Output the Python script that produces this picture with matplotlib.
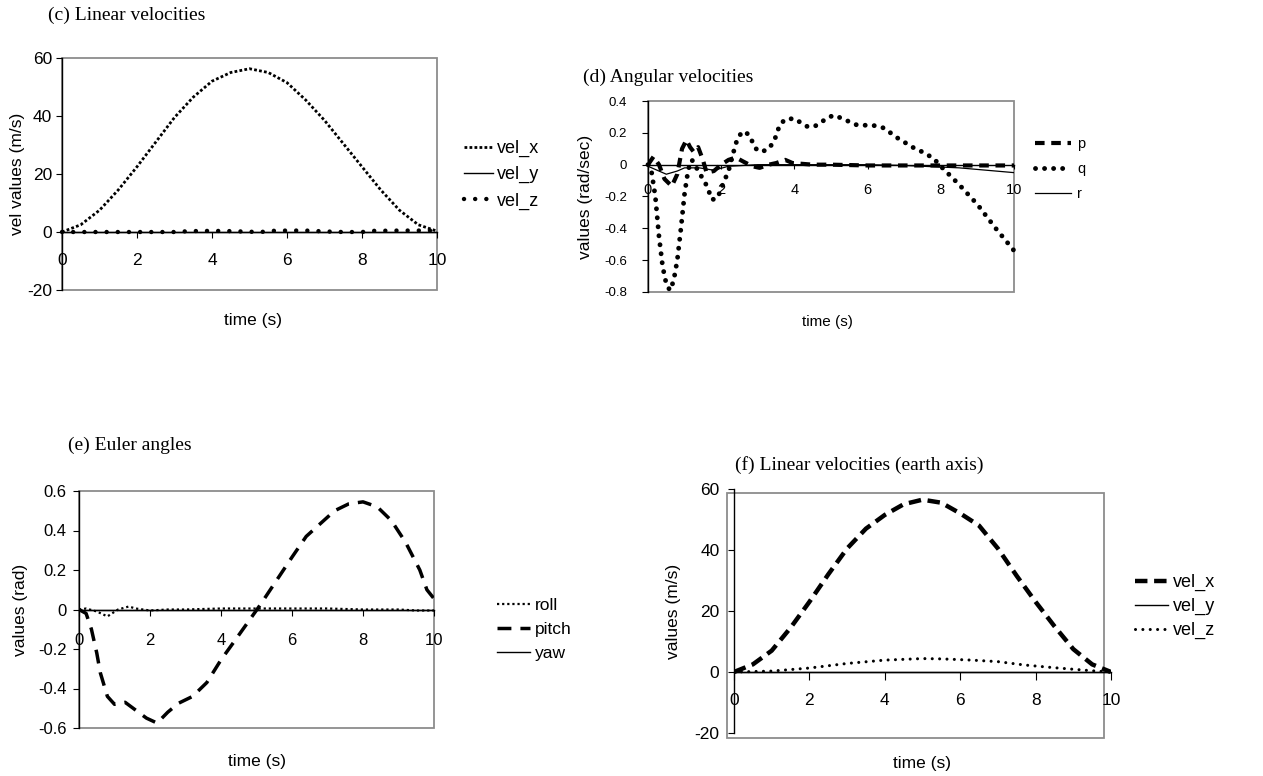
import matplotlib
matplotlib.use('Agg')
import matplotlib.pyplot as plt
from matplotlib.patches import Rectangle

plt.rcParams['font.family'] = ['Liberation Sans', 'DejaVu Sans']
plt.rcParams['axes.unicode_minus'] = False

# --- data ---
# (c) linear velocities
t_c = [0, 0.5, 1, 1.5, 2, 2.5, 3, 3.5, 4, 4.5, 5, 5.5, 6, 6.5, 7, 7.5, 8, 8.5, 9, 9.5, 10]
velx_c = [0, 2.5, 7.5, 14.5, 22.5, 31, 39.5, 46.5, 52, 55, 56.3, 55, 51.5, 45.5, 38.5, 30.5, 22.5, 14.5, 7.5, 2.5, 0.3]
t_cy = [0, 10]
vely_c = [0, 0]
t_cz = [0, 1, 2, 3, 3.4, 4, 4.5, 5, 5.3, 5.6, 6, 6.5, 7, 7.5, 8, 8.3, 9, 10]
velz_c = [0, 0, 0, 0, 0.3, 0.4, 0.3, 0.1, 0, 0.4, 0.5, 0.5, 0.2, 0, 0, 0.4, 0.5, 0.5]

# (d) angular velocities
t_p = [0, 0.15, 0.3, 0.45, 0.65, 0.8, 0.93, 1.05, 1.15, 1.25, 1.37, 1.5, 1.6, 1.8, 2.0, 2.2, 2.4,
       2.6, 2.85, 3.05, 3.3, 3.5, 3.75, 3.95, 4.5, 5, 6, 7, 8, 9, 10]
p_d = [0, 0.05, 0.0, -0.09, -0.135, -0.06, 0.1, 0.155, 0.11, 0.08, 0.11, 0.03, -0.05, -0.04, 0.0,
       0.03, 0.045, 0.02, -0.01, -0.02, 0.0, 0.01, 0.03, 0.01, 0.0, 0.0, -0.005, -0.005, -0.005, -0.005, -0.005]
t_q = [0, 0.1, 0.2, 0.3, 0.4, 0.5, 0.6, 0.7, 0.8, 0.9, 1.0, 1.1, 1.2, 1.4, 1.6, 1.75, 1.9, 2.05,
       2.2, 2.3, 2.45, 2.6, 2.75, 2.95, 3.1, 3.3, 3.45, 3.6, 3.75, 4.0, 4.2, 4.35, 4.55, 4.75, 4.95,
       5.1, 5.35, 5.7, 6.2, 6.45, 6.8, 7.3, 7.5, 7.8, 8.0, 8.5, 9.0, 9.5, 10.0]
q_d = [0, -0.05, -0.2, -0.45, -0.64, -0.75, -0.79, -0.73, -0.6, -0.4, -0.18, -0.03, 0.03, -0.05,
       -0.13, -0.22, -0.21, -0.12, -0.04, 0.05, 0.17, 0.21, 0.19, 0.1, 0.08, 0.1, 0.15, 0.25, 0.285,
       0.29, 0.26, 0.24, 0.24, 0.27, 0.3, 0.31, 0.285, 0.25, 0.245, 0.23, 0.17, 0.1, 0.08, 0.04,
       -0.01, -0.125, -0.25, -0.4, -0.54]
t_r = [0, 0.2, 0.5, 0.8, 1.0, 1.4, 1.8, 2.2, 3, 4, 5, 6, 7, 7.5, 8, 8.5, 9, 9.5, 10]
r_d = [-0.01, -0.03, -0.06, -0.04, -0.02, -0.02, -0.035, -0.01, 0, 0, 0, 0, -0.005, -0.01,
       -0.015, -0.02, -0.03, -0.04, -0.05]

# (e) Euler angles
t_pitch = [0, 0.2, 0.35, 0.5, 0.6, 0.8, 1.0, 1.3, 1.6, 1.9, 2.2, 2.5, 2.8, 3.2, 3.6, 4.0, 4.4,
           4.8, 5.1, 5.5, 6.0, 6.4, 6.8, 7.2, 7.6, 8.0, 8.4, 8.8, 9.2, 9.6, 9.8, 10]
pitch_e = [0, -0.02, -0.1, -0.22, -0.32, -0.44, -0.48, -0.47, -0.51, -0.55, -0.575, -0.52, -0.475,
           -0.44, -0.37, -0.255, -0.155, -0.054, 0.022, 0.13, 0.265, 0.37, 0.435, 0.5, 0.535, 0.545,
           0.52, 0.45, 0.34, 0.2, 0.1, 0.055]
t_roll = [0, 0.2, 0.5, 0.8, 1.1, 1.4, 1.6, 2.0, 2.5, 3, 4, 5, 6, 7, 8, 9, 9.5, 10]
roll_e = [0, 0.005, -0.01, -0.035, 0, 0.015, 0.005, -0.005, 0, 0, 0.005, 0.005, 0.005, 0.005, 0, 0,
          -0.005, -0.005]
t_yaw = [0, 10]
yaw_e = [0, 0]

# (f) linear velocities (earth axis)
t_f = [0, 0.5, 1, 1.5, 2, 2.5, 3, 3.5, 4, 4.5, 5, 5.5, 6, 6.5, 7, 7.5, 8, 8.5, 9, 9.5, 10]
velx_f = [0, 2.5, 7, 14.5, 23, 32, 40.5, 47, 51.5, 55, 56.5, 55.5, 52, 48, 40.5, 31.5, 23, 15,
          7.5, 2.5, 0]
t_fy = [0, 10]
vely_f = [0, 0]
t_fz = [0, 1, 2, 3, 4, 5, 5.5, 6.3, 7, 7.7, 8.5, 9.5, 10]
velz_f = [0, 0.3, 1.3, 2.8, 3.9, 4.4, 4.3, 3.9, 3.4, 2.3, 1.4, 0.4, 0]

xticks = [0, 2, 4, 6, 8, 10]

W, H = 1263, 776
fig = plt.figure(figsize=(W / 100, H / 100), dpi=100)


def box(l, t, r, b):
    return [l / W, 1 - b / H, (r - l) / W, (b - t) / H]


def style_axes(ax, ylim, yticks, yfs, xfs, ypad, xpad, xlen=3, frame=(0, 0, 1, 1)):
    ax.set_xlim(0, 10)
    ax.set_ylim(*ylim)
    ax.patch.set_visible(False)
    for s in ['top', 'right']:
        ax.spines[s].set_visible(False)
    ax.spines['left'].set_color('black')
    ax.spines['left'].set_linewidth(1)
    ax.spines['bottom'].set_position(('data', 0))
    ax.spines['bottom'].set_color('black')
    ax.spines['bottom'].set_linewidth(1)
    ax.spines['bottom'].set_zorder(5)
    ax.set_xticks(xticks)
    ax.set_xticklabels([f'{v:g}' for v in xticks])
    ax.set_yticks(yticks)
    ax.set_yticklabels([f'{v:g}' for v in yticks])
    ax.tick_params(axis='y', direction='out', length=4, width=0.8, labelsize=yfs, pad=ypad)
    ax.tick_params(axis='x', direction='out', length=xlen, width=0.8, labelsize=xfs, pad=xpad)
    ax.add_patch(Rectangle((frame[0], frame[1]), frame[2], frame[3], transform=ax.transAxes,
                           fill=False, ec='#8c8c8c', lw=1.3, clip_on=False, zorder=0))


def labels(ax, l, t, r, b, xc, xtop, yright, fx=12.5, fy=12.5):
    # place axis labels by pixel position: x label centre/top, y label right edge
    ax.set_xlabel('time (s)', fontsize=fx)
    ax.xaxis.set_label_coords((xc - l) / (r - l), -(xtop - b) / (b - t))
    ax.yaxis.set_label_coords(-(l - yright) / (r - l), 0.5)
    ax.yaxis.label.set_fontsize(fy)


def title(x, y, s):
    fig.text(x / W, 1 - y / H, s, family=['Liberation Serif'], fontsize=14, va='center', ha='left')


def legend(ax, x, y, fs, hl, ls, tp=0.3):
    fig.legend(handles=ax.get_lines(), loc='upper left', bbox_to_anchor=(x / W, 1 - y / H),
               frameon=False, fontsize=fs, handlelength=hl, labelspacing=ls, handletextpad=tp,
               borderpad=0, borderaxespad=0)


def round_dots(gap):
    return (0, (0.01, gap))


# ---- (c) ----
ax_c = fig.add_axes(box(62, 58, 437, 290))
ax_c.plot(t_c, velx_c, color='black', lw=2.0, ls=(0, (1, 0.8)), label='vel_x')
ax_c.plot(t_cy, vely_c, color='black', lw=1.0, label='vel_y')
ax_c.plot(t_cz, velz_c, color='black', lw=3.2, ls=round_dots(2.5), dash_capstyle='round',
          label='vel_z', clip_on=False)
style_axes(ax_c, (-20, 60), [-20, 0, 20, 40, 60], 12.5, 12.5, 3, 11, xlen=4)
ax_c.set_ylabel('vel values (m/s)')
labels(ax_c, 62, 58, 437, 290, 253, 313, 25)
title(48, 15, '(c) Linear velocities')
legend(ax_c, 464, 140, 13, 1.6, 0.5, 0.25)

# ---- (d) ----
ax_d = fig.add_axes(box(648, 101, 1014, 292))
ax_d.plot(t_p, p_d, color='black', lw=3.0, ls=(0, (2.3, 1.6)), label='p')
ax_d.plot(t_q, q_d, color='black', lw=3.5, ls=round_dots(1.85), dash_capstyle='round',
          label='q', clip_on=False)
ax_d.plot(t_r, r_d, color='black', lw=0.9, label='r')
style_axes(ax_d, (-0.8, 0.4), [-0.8, -0.6, -0.4, -0.2, 0, 0.2, 0.4], 9.5, 10.5, 11, 10)
ax_d.set_ylabel('values (rad/sec)')
labels(ax_d, 648, 101, 1014, 292, 827, 315, 593, fx=11)
title(583, 77, '(d) Angular velocities')
legend(ax_d, 1035, 137, 10.5, 2.5, 0.75, 0.4)

# ---- (e) ----
ax_e = fig.add_axes(box(79, 491, 434, 728))
ax_e.plot(t_roll, roll_e, color='black', lw=1.6, ls=(0, (1, 1.3)), label='roll')
ax_e.plot(t_pitch, pitch_e, color='black', lw=2.5, ls=(0, (4, 2.6)), label='pitch')
ax_e.plot(t_yaw, yaw_e, color='black', lw=1.0, label='yaw')
style_axes(ax_e, (-0.6, 0.6), [-0.6, -0.4, -0.2, 0, 0.2, 0.4, 0.6], 12, 12, 5, 13, xlen=4)
ax_e.set_ylabel('values (rad)')
labels(ax_e, 79, 491, 434, 728, 257, 754, 28)
title(68, 445, '(e) Euler angles')
legend(ax_e, 497, 598, 12.5, 1.9, 0.5, 0.3)

# ---- (f) ----
ax_f = fig.add_axes(box(734, 489, 1111, 733))
ax_f.plot(t_f, velx_f, color='black', lw=3.2, ls=(0, (2.8, 1.5)), label='vel_x')
ax_f.plot(t_fy, vely_f, color='black', lw=1.0, label='vel_y')
ax_f.plot(t_fz, velz_f, color='black', lw=2.2, ls=round_dots(2.4), dash_capstyle='round',
          label='vel_z')
style_axes(ax_f, (-20, 60), [-20, 0, 20, 40, 60], 12.5, 12.5, 6.5, 9, xlen=6,
           frame=(-7 / 377, -5 / 244, 377 / 377, 245 / 244))
ax_f.set_ylabel('values (m/s)')
labels(ax_f, 734, 489, 1111, 733, 922, 756, 681)
title(735, 465, '(f) Linear velocities (earth axis)')
legend(ax_f, 1135, 574, 13, 1.8, 0.38, 0.3)

fig.savefig('out.png', dpi=100)
